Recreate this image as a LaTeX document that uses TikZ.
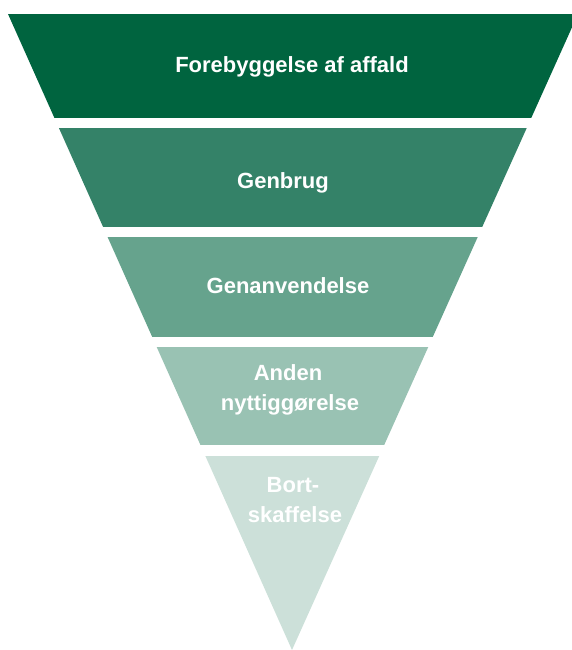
\documentclass[tikz,border=0pt]{standalone}
\usepackage{fontspec}
\setmainfont{Liberation Sans}
\definecolor{tA}{HTML}{00643F}
\definecolor{tB}{HTML}{348268}
\definecolor{tC}{HTML}{66A38D}
\definecolor{tD}{HTML}{99C2B3}
\definecolor{tE}{HTML}{CCE0D9}
\begin{document}
\begin{tikzpicture}[x=1pt,y=-1pt,
  lbl/.style={text=white,font=\bfseries\fontsize{22}{30}\selectfont,anchor=base,inner sep=0pt}]
\useasboundingbox (0,0) rectangle (571,650);
\begin{scope}
\clip (8,14) -- (578,14) -- (292,650) -- cycle;
\fill[tA] (0,14) rectangle (600,118);
\fill[tB] (0,128) rectangle (600,227);
\fill[tC] (0,237) rectangle (600,337);
\fill[tD] (0,347) rectangle (600,445);
\fill[tE] (0,456) rectangle (600,660);
\end{scope}
\node[lbl] (l1) at (292,73) {Forebyggelse af affald};
\node[lbl] (l2) at (283,188) {Genbrug};
\node[lbl] (l3) at (288,293) {Genanvendelse};
\node[lbl] (l4a) at (288,380) {Anden};
\node[lbl] (l4b) at (290,410) {nyttiggørelse};
\node[lbl] (l5a) at (293,492) {Bort-};
\node[lbl] (l5b) at (295,522) {skaffelse};
\end{tikzpicture}
\end{document}
